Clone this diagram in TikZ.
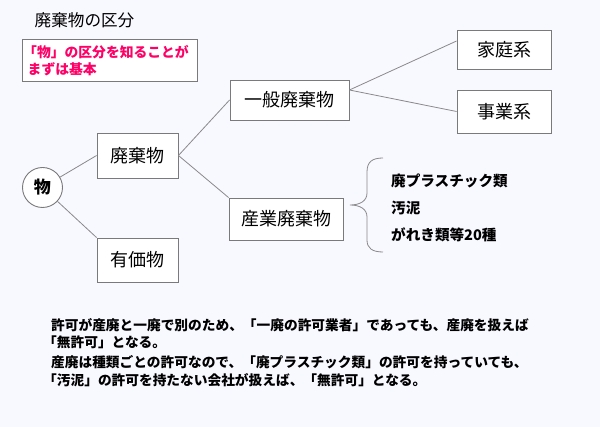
\documentclass[tikz,border=0pt]{standalone}
\usepackage{fontspec}
\setmainfont{Noto Sans CJK JP}
\definecolor{bg}{HTML}{F8F8FF}
\definecolor{pinktxt}{HTML}{FF0066}
\definecolor{edge}{HTML}{7A7A7A}
\definecolor{link}{HTML}{8A8A8A}
\tikzset{
  boxnode/.style={draw=edge, line width=0.9pt, fill=white, rectangle, inner sep=0pt,
    font=\fontsize{18}{18}\selectfont},
  linkline/.style={draw=link, line width=0.8pt},
  bodytext/.style={anchor=west, inner sep=0pt, font=\bfseries\fontsize{13.7}{13.7}\selectfont},
  itemtext/.style={anchor=west, inner sep=0pt, font=\bfseries\fontsize{14.6}{14.6}\selectfont},
  pinkline/.style={anchor=west, inner sep=0pt, text=pinktxt, font=\bfseries\fontsize{13.8}{13.8}\selectfont}
}
\begin{document}
\begin{tikzpicture}[x=1pt,y=-1pt]
\useasboundingbox[fill=bg] (0,0) rectangle (600,427);
% title
\node[anchor=west, inner sep=0pt, font=\fontsize{16.6}{16.6}\selectfont] (title) at (34.5,20.5) {廃棄物の区分};
% pink note
\node[draw=edge, line width=0.9pt, fill=white, minimum width=175pt, minimum height=42pt, inner sep=0pt] (note) at (109.5,60) {};
\node[pinkline] (note1) at (23,52.5) {「物」の区分を知ることが};
\node[pinkline] (note2) at (27.5,69) {まずは基本};
% tree nodes
\node[draw=edge, line width=0.9pt, fill=white, circle, minimum size=40pt, inner sep=0pt,
      font=\bfseries\fontsize{17}{17}\selectfont] (butsu) at (42.5,187.5) {物};
\node[boxnode, minimum width=81pt, minimum height=45pt] (haiki) at (137.5,155.5) {廃棄物};
\node[boxnode, minimum width=81pt, minimum height=44pt] (yuka) at (137.5,260) {有価物};
\node[boxnode, minimum width=119pt, minimum height=40pt] (ippan) at (289.5,100) {一般廃棄物};
\node[boxnode, minimum width=114pt, minimum height=42pt] (sangyo) at (286,219) {産業廃棄物};
\node[boxnode, minimum width=94pt, minimum height=39pt] (katei) at (504,50) {家庭系};
\node[boxnode, minimum width=94pt, minimum height=43pt] (jigyo) at (504,111.5) {事業系};
% connectors
\draw[linkline] (butsu) -- (haiki.west);
\draw[linkline] (butsu) -- (yuka.north west);
\draw[linkline] (haiki.east) -- (ippan.west);
\draw[linkline] (haiki.east) -- (sangyo.north west);
\draw[linkline] ([yshift=10pt]ippan.east) -- ([yshift=9pt]katei.west);
\draw[linkline] ([yshift=10pt]ippan.east) -- (jigyo.west);
% brace
\draw[linkline] (383,158) .. controls (372,158) and (367,162) .. (367,172) -- (367,193)
  .. controls (367,201) and (360,205) .. (350,205)
  .. controls (360,205) and (367,209) .. (367,217) -- (367,240)
  .. controls (367,248) and (372,252) .. (383,252);
% items
\node[itemtext] (item1) at (391,181) {廃プラスチック類};
\node[itemtext] (item2) at (391,207.5) {汚泥};
\node[itemtext] (item3) at (391,234.5) {がれき類等20種};
% body text
\node[bodytext] (p1a) at (51,325) {許可が産廃と一廃で別のため、「一廃の許可業者」であっても、産廃を扱えば};
\node[bodytext] (p1b) at (43,342.5) {「無許可」となる。};
\node[bodytext] (p2a) at (51,362) {産廃は種類ごとの許可なので、「廃プラスチック類」の許可を持っていても、};
\node[bodytext] (p2b) at (43,380) {「汚泥」の許可を持たない会社が扱えば、「無許可」となる。};
\end{tikzpicture}
\end{document}
